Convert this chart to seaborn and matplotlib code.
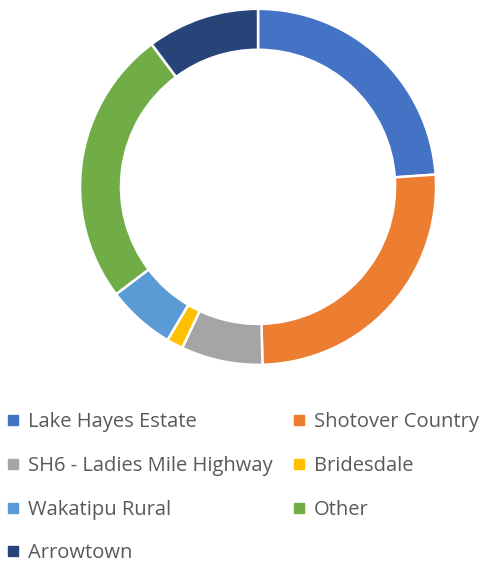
import matplotlib
matplotlib.use("Agg")
import matplotlib.pyplot as plt
from matplotlib.lines import Line2D
import seaborn as sns

# values (share of total, %)
areas = ["Lake Hayes Estate", "Shotover Country", "SH6 - Ladies Mile Highway",
         "Bridesdale", "Wakatipu Rural", "Other", "Arrowtown"]
shares = [23.9, 25.7, 7.4, 1.5, 6.2, 25.1, 10.2]
colours = ["#4472C4", "#ED7D31", "#A5A5A5", "#FFC000", "#5B9BD5", "#70AD47", "#264478"]

sns.set_theme(style="white")
plt.rcParams['font.family'] = ['Open Sans', 'DejaVu Sans']

fig = plt.figure(figsize=(4.88, 5.63), dpi=100)
ax = fig.add_axes([0.164, 0.352, 0.7295, 0.6323])

ax.pie(shares, colors=colours, startangle=90, counterclock=False, radius=1.0,
       wedgeprops=dict(width=0.23, edgecolor="white", linewidth=1.8))
ax.set_xlim(-1, 1)
ax.set_ylim(-1, 1)
ax.set_aspect("equal")
ax.axis("off")

# legend fills column by column, so reorder to read row by row like the reference
order = [0, 2, 4, 6, 1, 3, 5]
handles = [Line2D([], [], marker="s", linestyle="", markersize=6.5,
                  markerfacecolor=colours[i], markeredgecolor=colours[i]) for i in order]
labels = [areas[i] for i in order]
leg = fig.legend(handles, labels, loc="upper left", bbox_to_anchor=(0.012, 0.268),
                 ncol=2, frameon=False, fontsize=14.5, handlelength=0.7,
                 handletextpad=0.4, columnspacing=0.95, labelspacing=1.18,
                 borderaxespad=0, borderpad=0)
for t in leg.get_texts():
    t.set_color("#595959")

fig.savefig("out.png", dpi=100)
